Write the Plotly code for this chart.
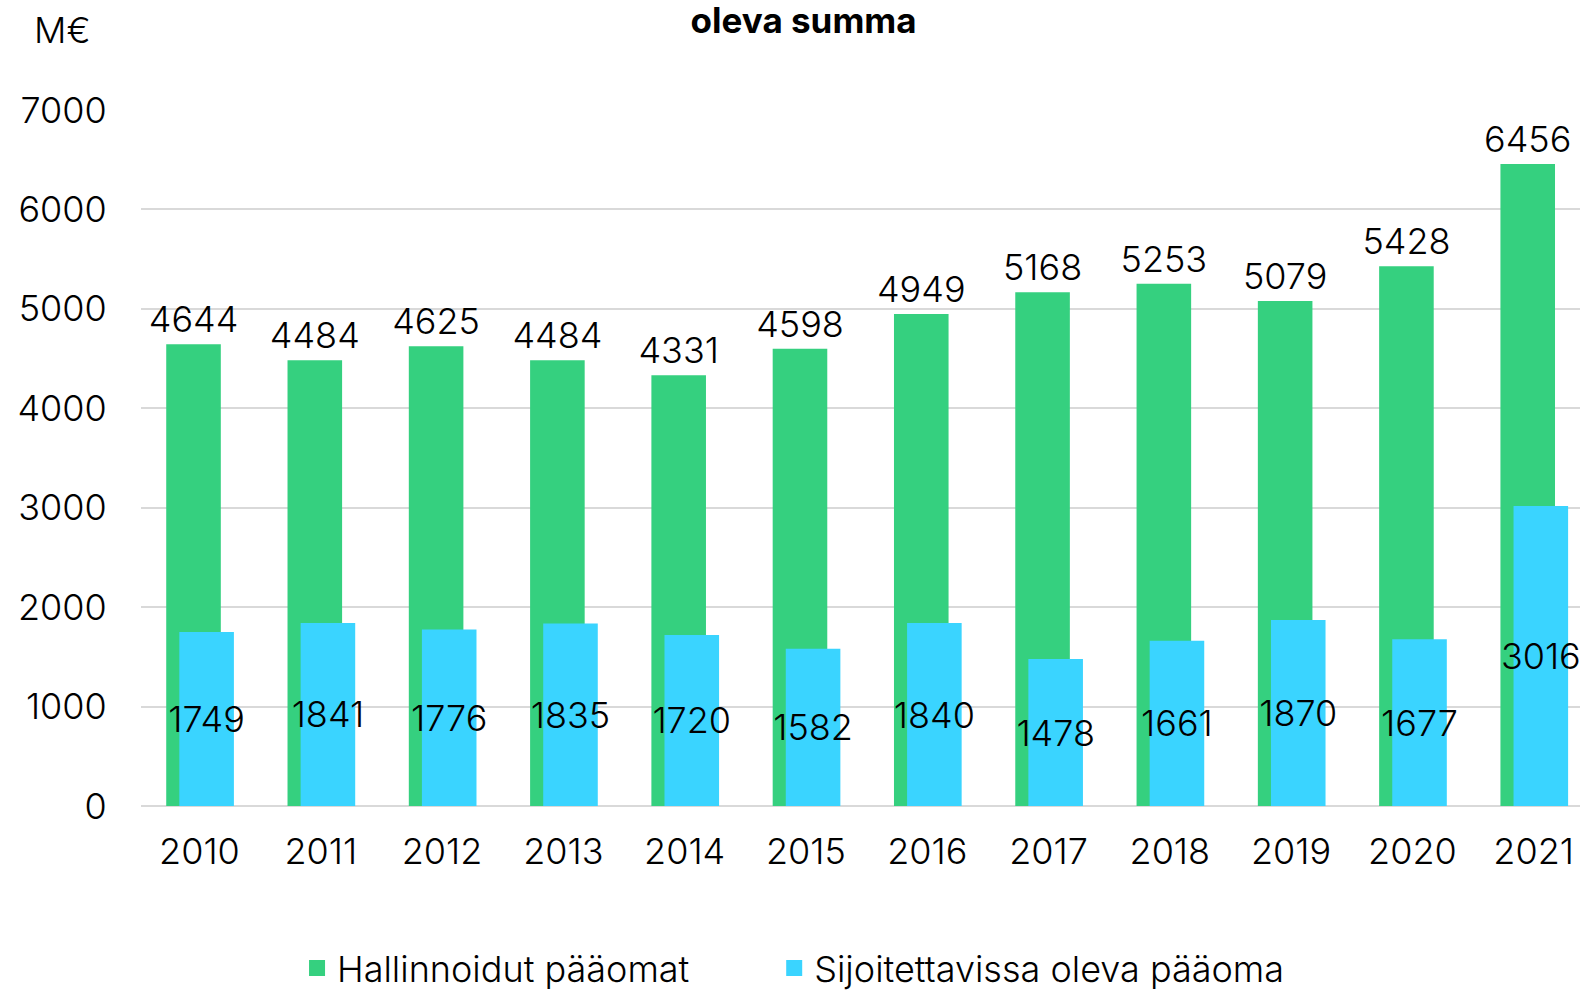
import plotly.graph_objects as go

years = ["2010", "2011", "2012", "2013", "2014", "2015", "2016", "2017", "2018", "2019", "2020", "2021"]
hallinnoidut = [4644, 4484, 4625, 4484, 4331, 4598, 4949, 5168, 5253, 5079, 5428, 6456]
sijoitettavissa = [1749, 1841, 1776, 1835, 1720, 1582, 1840, 1478, 1661, 1870, 1677, 3016]
y_ticks = [0, 1000, 2000, 3000, 4000, 5000, 6000, 7000]
series_names = ["Hallinnoidut pääomat", "Sijoitettavissa oleva pääoma"]

FONT = "Inter"
FS = 36
GREEN = "#35D07F"
BLUE = "#3AD4FF"

fig = go.Figure()
fig.add_trace(go.Bar(
    x=years, y=hallinnoidut, name=series_names[0], showlegend=False,
    marker=dict(color=GREEN, line=dict(width=0)),
    width=0.45, offset=-0.274,
    text=[str(v) for v in hallinnoidut], textposition="outside", textangle=0,
    textfont=dict(family=FONT, size=FS, color="#000000", weight=300),
    cliponaxis=False, constraintext="none",
))
fig.add_trace(go.Bar(
    x=years, y=sijoitettavissa, name=series_names[1], showlegend=False,
    marker=dict(color=BLUE, line=dict(width=0)),
    width=0.45, offset=-0.166,
    text=[str(v) for v in sijoitettavissa], textposition="inside", textangle=0,
    insidetextanchor="middle",
    textfont=dict(family=FONT, size=FS, color="#000000", weight=300),
    cliponaxis=False, constraintext="none",
))
# legend entries (larger square symbols), each in its own legend box
fig.add_trace(go.Scatter(x=[None], y=[None], mode="markers", name=series_names[0],
                         legend="legend",
                         marker=dict(symbol="square", size=19, color=GREEN)))
fig.add_trace(go.Scatter(x=[None], y=[None], mode="markers", name=series_names[1],
                         legend="legend2",
                         marker=dict(symbol="square", size=19, color=BLUE)))

legend_font = dict(family=FONT, size=FS, color="#000000", weight=300)
fig.update_layout(
    width=1580, height=994,
    barmode="overlay",
    plot_bgcolor="white", paper_bgcolor="white",
    margin=dict(l=141, r=0, t=110, b=188),
    font=dict(family=FONT, size=FS, color="#000000", weight=300),
    title=dict(text="<b>oleva summa</b>", x=0.5086, xanchor="center",
               xref="container", yref="container", y=0.979, yanchor="middle",
               font=dict(family=FONT, size=35, color="#000000", weight=800)),
    legend=dict(orientation="h", xref="container", yref="container",
                x=0.188, xanchor="left", y=0.026, yanchor="middle",
                font=legend_font, itemwidth=30, bgcolor="rgba(0,0,0,0)"),
    legend2=dict(orientation="h", xref="container", yref="container",
                 x=0.490, xanchor="left", y=0.026, yanchor="middle",
                 font=legend_font, itemwidth=30, bgcolor="rgba(0,0,0,0)"),
    showlegend=True,
    annotations=[dict(text="M€", xref="paper", yref="paper", x=-0.0546, y=1.115,
                      xanchor="center", yanchor="middle", showarrow=False,
                      font=dict(family=FONT, size=FS, color="#000000", weight=300))],
)
fig.update_yaxes(range=[0, 7000], tickvals=y_ticks, showgrid=True,
                 gridcolor="#D9D9D9", gridwidth=2, zeroline=True,
                 zerolinecolor="#D9D9D9", zerolinewidth=2,
                 ticks="outside", ticklen=26, tickcolor="rgba(0,0,0,0)",
                 tickfont=dict(family=FONT, size=FS, weight=300), showline=False,
                 automargin=False)
fig.update_xaxes(ticks="outside", ticklen=14, tickcolor="rgba(0,0,0,0)",
                 tickfont=dict(family=FONT, size=FS, weight=300), showline=False,
                 range=[-0.482, 11.382], automargin=False)

fig.write_html("out.html", config={"displayModeBar": False},
               post_script="document.body.style.margin='0px';")
